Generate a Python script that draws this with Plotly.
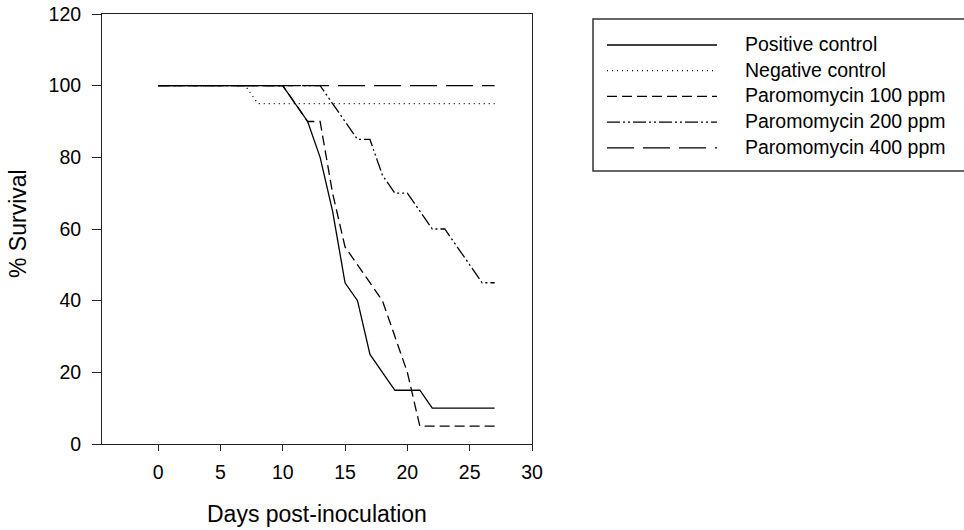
import plotly.graph_objects as go

# ---------------- data ----------------
days = list(range(0, 28))

positive_control = [100, 100, 100, 100, 100, 100, 100, 100, 100, 100, 100,
                    95, 90, 80, 65, 45, 40, 25, 20, 15, 15, 15, 10, 10, 10, 10, 10, 10]
negative_control = [100, 100, 100, 100, 100, 100, 100, 100,
                    95, 95, 95, 95, 95, 95, 95, 95, 95, 95, 95, 95, 95, 95, 95, 95, 95, 95, 95, 95]
paro_100 = [100, 100, 100, 100, 100, 100, 100, 100, 100, 100, 100,
            95, 90, 90, 70, 55, 50, 45, 40, 30, 20, 5, 5, 5, 5, 5, 5, 5]
paro_200 = [100, 100, 100, 100, 100, 100, 100, 100, 100, 100, 100, 100, 100, 100,
            95, 90, 85, 85, 75, 70, 70, 65, 60, 60, 55, 50, 45, 45]
paro_400 = [100] * 28

series_names = ["Positive control", "Negative control", "Paromomycin 100 ppm",
                "Paromomycin 200 ppm", "Paromomycin 400 ppm"]
series_values = [positive_control, negative_control, paro_100, paro_200, paro_400]

x_ticks = [0, 5, 10, 15, 20, 25, 30]
y_ticks = [0, 20, 40, 60, 80, 100, 120]

# ---------------- styles ----------------
dashes = ["solid", "1px,4px", "10px,5px", "13px,3px,2px,3px,2px,3px", "27px,9px"]
widths = [1.3, 1.3, 1.3, 1.3, 1.3]

W, H = 964, 530
L, R, T, B = 102, 432, 14, 86
PW, PH = W - L - R, H - T - B

def px_x(px):
    return (px - L) / PW

def px_y(py):
    return (H - B - py) / PH

FONT = "Arial, Liberation Sans, sans-serif"

fig = go.Figure()
for name, vals, d, w in zip(series_names, series_values, dashes, widths):
    fig.add_trace(go.Scatter(x=days, y=vals, mode="lines", name=name,
                             line=dict(color="black", width=w, dash=d),
                             showlegend=False))

# ---------------- manual legend ----------------
shapes = [dict(type="rect", xref="paper", yref="paper",
               x0=px_x(593), x1=px_x(975), y0=px_y(171), y1=px_y(19),
               line=dict(color="#333333", width=1.5), fillcolor="rgba(0,0,0,0)")]
annotations = []
row_y = [44, 69.7, 95.4, 121.1, 146.8]
for name, d, w, ry in zip(series_names, dashes, widths, row_y):
    shapes.append(dict(type="line", xref="paper", yref="paper",
                       x0=px_x(607), x1=px_x(717), y0=px_y(ry + 1), y1=px_y(ry + 1),
                       line=dict(color="black", width=w, dash=d)))
    annotations.append(dict(xref="paper", yref="paper", x=px_x(743), y=px_y(ry),
                            text=name, showarrow=False, xanchor="left", yanchor="middle",
                            font=dict(family=FONT, size=19.5, color="black")))

# axis titles
annotations.append(dict(xref="paper", yref="paper", x=0.5, y=px_y(514),
                        text="Days post-inoculation", showarrow=False,
                        xanchor="center", yanchor="middle",
                        font=dict(family=FONT, size=23, color="black")))
annotations.append(dict(xref="paper", yref="paper", x=px_x(18), y=px_y(224),
                        text="% Survival", showarrow=False, textangle=-90,
                        xanchor="center", yanchor="middle",
                        font=dict(family=FONT, size=23, color="black")))

fig.update_layout(
    width=W, height=H,
    margin=dict(l=L, r=R, t=T, b=B, pad=0, autoexpand=False),
    paper_bgcolor="white", plot_bgcolor="white",
    font=dict(family=FONT, color="black"),
    shapes=shapes, annotations=annotations,
    xaxis=dict(range=[-4.5, 30], tickvals=x_ticks, ticks="outside", ticklen=6,
               tickwidth=1, tickcolor="#222", showline=True, linecolor="#222",
               linewidth=1, mirror=True, showgrid=False, zeroline=False,
               automargin=False,
               tickfont=dict(family=FONT, size=19.5, color="black"),
               ticklabelstandoff=5),
    yaxis=dict(range=[0, 120], tickvals=y_ticks, ticks="outside", ticklen=9,
               tickwidth=1, tickcolor="#222", showline=True, linecolor="#222",
               linewidth=1, mirror=True, showgrid=False, zeroline=False,
               automargin=False,
               tickfont=dict(family=FONT, size=19.5, color="black"),
               ticklabelstandoff=7),
)

fig.write_html("out.html")
